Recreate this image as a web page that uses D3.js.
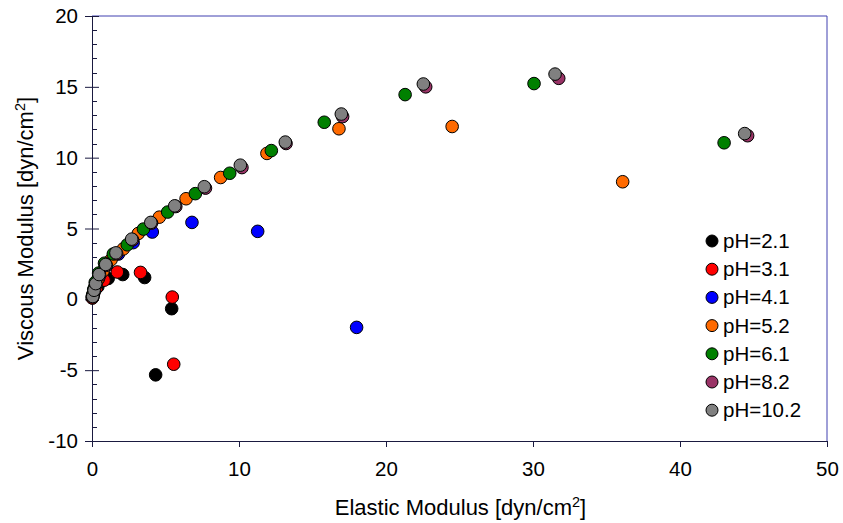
<!DOCTYPE html>
<html><head><meta charset="utf-8">
<script src="https://cdn.jsdelivr.net/npm/d3@7"></script>
<style>body{margin:0;background:#fff}svg{display:block}text{font-family:"Liberation Sans",Arial,sans-serif;fill:#000}</style>
</head><body>
<svg id="c" width="843" height="523"></svg>
<script>
const seriesNames = ["pH=2.1","pH=3.1","pH=4.1","pH=5.2","pH=6.1","pH=8.2","pH=10.2"];
const seriesColors = ["#000000","#ff0000","#0000ff","#ff6a00","#008000","#993366","#808080"];
const ph21 = [[0.03,0.1],[0.12,0.45],[0.4,0.9],[1.1,1.47],[2.09,1.75],[3.58,1.54],[5.42,-0.66],[4.33,-5.33]];
const ph31 = [[0.02,0.1],[0.1,0.4],[0.3,0.8],[0.82,1.35],[1.72,1.93],[3.3,1.9],[5.46,0.16],[5.56,-4.58]];
const ph41 = [[0.03,0.2],[0.15,0.7],[0.45,1.5],[1.0,2.4],[1.8,3.2],[2.8,4.0],[4.1,4.75],[6.8,5.43],[11.27,4.8],[18.0,-1.98]];
const ph52 = [[0.03,0.25],[0.1,0.5],[0.2,0.9],[0.4,1.4],[0.75,2.0],[1.3,2.8],[2.13,3.56],[3.15,4.65],[4.58,5.8],[6.4,7.1],[8.75,8.6],[11.9,10.3],[16.8,12.04],[24.5,12.2],[36.1,8.3]];
const ph61 = [[0.05,0.3],[0.12,0.7],[0.22,1.2],[0.45,1.85],[0.85,2.55],[1.45,3.2],[2.4,3.85],[3.5,4.96],[5.15,6.16],[7.03,7.46],[9.37,8.9],[12.2,10.5],[15.8,12.5],[21.3,14.45],[30.07,15.23],[43.0,11.05]];
const ph82 = [[0.06,0.18],[0.16,0.6],[0.28,1.05],[0.52,1.7],[0.97,2.4],[1.68,3.22],[2.76,4.2],[4.05,5.38],[5.7,6.55],[7.72,7.85],[10.2,9.3],[13.2,11.0],[17.05,12.9],[22.7,15.0],[31.75,15.6],[44.6,11.55]];
const ph102 = [[0.05,0.2],[0.14,0.64],[0.25,1.11],[0.48,1.75],[0.93,2.46],[1.63,3.28],[2.7,4.25],[4.0,5.43],[5.63,6.6],[7.64,7.95],[10.09,9.47],[13.15,11.1],[16.96,13.08],[22.54,15.2],[31.5,15.9],[44.4,11.7]];
const seriesData = [ph21,ph31,ph41,ph52,ph61,ph82,ph102];
const xTicks = [0,10,20,30,40,50];
const yTicks = [-10,-5,0,5,10,15,20];

const svg = d3.select("#c");
const L=92, R=827, T=16, B=441;
const x = d3.scaleLinear().domain([0,50]).range([L,R]);
const y = d3.scaleLinear().domain([-10,20]).range([B,T]);

// frame top/right
svg.append("line").attr("x1",L).attr("x2",R).attr("y1",T).attr("y2",T).attr("stroke","#4040b0").attr("stroke-width",1);
svg.append("line").attr("x1",R).attr("x2",R).attr("y1",T).attr("y2",B).attr("stroke","#4040b0").attr("stroke-width",1);

// y minor ticks (inside)
const yMinor = d3.range(-10,21,1).filter(v=>v%5!==0);
svg.append("g").selectAll("line").data(yMinor).join("line")
  .attr("x1",L).attr("x2",L+5).attr("y1",d=>Math.round(y(d))+0.5).attr("y2",d=>Math.round(y(d))+0.5)
  .attr("stroke","#1a1a40");

// y axis
const ya = svg.append("g").attr("transform",`translate(${L},0)`)
  .call(d3.axisLeft(y).tickValues(yTicks).tickFormat(d=>String(d)).tickSize(7).tickPadding(6));
ya.select(".domain").attr("stroke","#1a1a40");
ya.selectAll(".tick line").attr("stroke","#1a1a40").attr("x2",-7).attr("x1",7);
ya.selectAll("text").attr("font-size",20.5).attr("font-family","Liberation Sans, Arial, sans-serif").attr("fill","#000").attr("x",-14);

// x axis
const xa = svg.append("g").attr("transform",`translate(0,${B})`)
  .call(d3.axisBottom(x).tickValues(xTicks).tickFormat(d=>String(d)).tickSize(6).tickPadding(14));
xa.select(".domain").attr("stroke","#1a1a40");
xa.selectAll(".tick line").attr("stroke","#1a1a40");
xa.selectAll("text").attr("font-size",20.5).attr("font-family","Liberation Sans, Arial, sans-serif").attr("fill","#000");

// titles
const xt = svg.append("text").attr("x",(L+R)/2+1).attr("y",515).attr("text-anchor","middle").attr("font-size",22);
xt.append("tspan").text("Elastic Modulus [dyn/cm");
xt.append("tspan").attr("dy",-8).attr("font-size",14.5).text("2");
xt.append("tspan").attr("dy",8).text("]");
const yt = svg.append("text").attr("transform",`translate(33,${(T+B)/2}) rotate(-90)`).attr("text-anchor","middle").attr("font-size",22);
yt.append("tspan").text("Viscous Modulus [dyn/cm");
yt.append("tspan").attr("dy",-8).attr("font-size",14.5).text("2");
yt.append("tspan").attr("dy",8).text("]");

// points
seriesData.forEach((s,i)=>{
  svg.append("g").selectAll("circle").data(s).join("circle")
    .attr("cx",d=>x(d[0])).attr("cy",d=>y(d[1])).attr("r",6.3)
    .attr("fill",seriesColors[i]).attr("stroke","#000").attr("stroke-width",1);
});

// legend
const lg = svg.append("g");
seriesNames.forEach((n,i)=>{
  const cy = 241 + i*28.2;
  lg.append("circle").attr("cx",712).attr("cy",cy).attr("r",6).attr("fill",seriesColors[i]).attr("stroke","#000");
  lg.append("text").attr("x",723).attr("y",cy+7).attr("font-size",20.5).text(n);
});
</script>
</body></html>
